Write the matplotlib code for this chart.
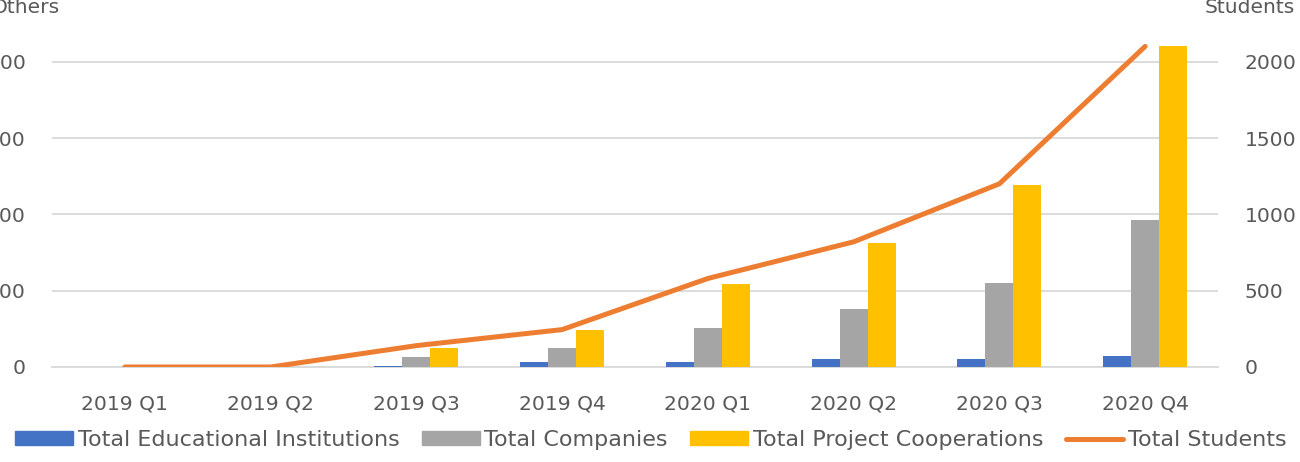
import matplotlib
matplotlib.use("Agg")
import matplotlib.pyplot as plt
import numpy as np
from matplotlib.lines import Line2D
from matplotlib.patches import Patch

quarters = ["2019 Q1", "2019 Q2", "2019 Q3", "2019 Q4", "2020 Q1", "2020 Q2", "2020 Q3", "2020 Q4"]
edu_institutions = [0, 0, 1, 6, 7, 10, 11, 15]
companies = [0, 0, 13, 25, 51, 76, 110, 192]
project_coops = [0, 0, 25, 48, 109, 162, 239, 420]
students = [0, 0, 140, 245, 580, 820, 1200, 2100]
left_ticks = [0, 100, 200, 300, 400]
right_ticks = [0, 500, 1000, 1500, 2000]

FONT = "DejaVu Sans"
FS = 14.6
LFS = 16
TXT = "#595959"
plt.rcParams["font.family"] = [FONT]

W, H = 1300, 462
fig = plt.figure(figsize=(13, 4.62), dpi=100)
ax_l, ax_r, ax_t, ax_b = 52, 1218, 40, 367
ax = fig.add_axes([ax_l / W, 1 - ax_b / H, (ax_r - ax_l) / W, (ax_b - ax_t) / H])
ax2 = ax.twinx()

x = np.arange(len(quarters))
bw = 0.192
c_blue, c_gray, c_yel, c_or = "#4472C4", "#A5A5A5", "#FFC000", "#ED7D31"
ax.bar(x - bw, edu_institutions, bw, color=c_blue, zorder=3)
ax.bar(x, companies, bw, color=c_gray, zorder=3)
ax.bar(x + bw, project_coops, bw, color=c_yel, zorder=3)
ax2.plot(x, students, color=c_or, lw=3.6, solid_capstyle="round", solid_joinstyle="round", zorder=4)

ax.set_xlim(-0.5, len(quarters) - 0.5)
lmax = 400 * (ax_b - ax_t) / (367 - 61.7)
ax.set_ylim(0, lmax)
ax2.set_ylim(0, lmax * 5)
ax.set_yticks(left_ticks)
ax2.set_yticks(right_ticks)
ax.set_xticks(x)
ax.set_xticklabels(quarters)

ax.grid(axis="y", color="#D9D9D9", lw=1.3, zorder=0)
ax.set_axisbelow(True)
for a in (ax, ax2):
    for s in a.spines.values():
        s.set_visible(False)
    a.tick_params(length=0, labelsize=FS, labelcolor=TXT)
ax.spines["bottom"].set_visible(True)
ax.spines["bottom"].set_color("#D9D9D9")
ax.spines["bottom"].set_linewidth(1.3)
ax.tick_params(axis="x", pad=20)
ax.tick_params(axis="y", pad=19)
ax2.tick_params(axis="y", pad=19)

fig.text(60 / W, 1 - 12.7 / H, "Others", ha="right", va="baseline", fontsize=FS, color=TXT)
fig.text(1205 / W, 1 - 12.7 / H, "Students", ha="left", va="baseline", fontsize=FS, color=TXT)

handles = [
    Patch(color=c_blue, label="Total Educational Institutions"),
    Patch(color=c_gray, label="Total Companies"),
    Patch(color=c_yel, label="Total Project Cooperations"),
    Line2D([0], [0], color=c_or, lw=3.6, solid_capstyle="round", label="Total Students"),
]
leg = fig.legend(handles=handles, loc="center", bbox_to_anchor=(651 / W, 1 - 440 / H), ncol=4,
                 frameon=False, fontsize=LFS, handlelength=2.6, handleheight=0.6,
                 handletextpad=0.22, columnspacing=1.0, borderaxespad=0)
for t in leg.get_texts():
    t.set_color(TXT)

fig.savefig("out.png", dpi=100)
